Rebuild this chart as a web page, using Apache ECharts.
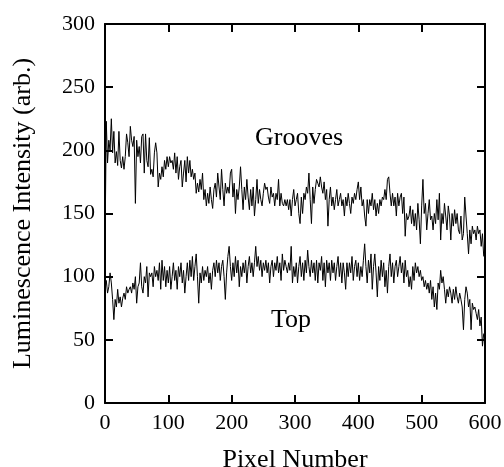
<!DOCTYPE html>
<html>
<head>
<meta charset="utf-8">
<script src="https://cdn.jsdelivr.net/npm/echarts@6/dist/echarts.min.js"></script>
<style>html,body{margin:0;padding:0;background:#fff;}#c{width:504px;height:467px;}</style>
</head>
<body>
<div id="c"></div>
<script>
// Sampling step along pixel axis (every 2 pixels, starting at 0)
var pixelStep = 2;
var groovesValues = [
121,223,190,208,200,225,198,215,190,199,188,215,192,186,195,185,195,213,206,195,
219,208,203,211,158,208,195,203,190,211,213,182,213,192,187,210,181,185,179,198,
206,198,171,182,177,187,179,192,185,195,187,195,190,192,185,198,182,195,177,187,
192,171,182,192,175,195,182,192,179,185,177,182,166,174,167,177,169,182,161,169,
156,166,158,171,161,154,169,174,163,182,171,161,185,169,156,174,166,171,166,182,
185,163,174,150,169,161,171,187,169,153,171,161,177,163,153,169,156,171,148,161,
177,158,169,161,156,166,174,169,171,163,158,171,163,166,156,166,161,177,156,166,
158,156,161,156,161,153,161,148,161,169,156,161,166,150,142,163,150,166,161,171,
166,182,161,142,171,158,169,177,174,171,179,171,166,175,161,169,140,161,171,156,
163,153,161,169,156,161,166,156,161,148,163,156,166,158,150,163,158,166,161,169,
175,161,171,156,161,148,140,161,150,161,156,166,153,161,148,158,150,161,156,163,
161,169,161,177,179,166,156,166,156,163,148,166,156,163,166,150,163,132,150,145,
148,156,142,153,140,150,137,158,145,126,156,177,150,158,137,150,161,145,148,137,
150,142,161,145,166,129,150,142,158,148,137,156,148,129,150,140,153,142,150,137,
134,148,129,134,163,148,134,118,137,126,140,134,137,129,140,134,137,124,134,116
];
var topValues = [
90,97,87,92,103,95,82,66,82,76,90,79,84,76,83,87,82,92,87,90,
92,87,95,90,100,79,92,95,111,92,87,100,95,108,84,103,100,103,92,108,
100,105,97,111,90,113,97,108,92,105,95,108,90,100,111,97,105,90,108,100,
111,95,105,87,100,111,97,113,100,116,97,108,118,100,79,103,95,108,97,105,
100,108,95,103,90,105,111,100,113,103,111,97,108,113,100,82,103,116,124,108,
97,111,100,116,103,113,92,108,100,111,103,113,95,108,116,103,111,100,111,124,
108,116,105,113,100,111,105,113,103,111,95,108,113,100,111,105,116,103,111,97,
118,105,113,108,103,111,105,124,95,108,100,111,95,108,116,100,111,97,113,103,
121,108,100,113,103,111,97,113,95,111,105,116,97,111,92,113,103,111,97,113,
103,111,97,108,116,100,111,95,111,103,90,111,100,111,103,116,97,108,113,100,
111,97,108,100,113,126,108,95,113,103,118,90,108,118,103,84,108,97,113,100,
111,92,105,87,108,118,100,111,95,108,113,100,108,116,103,111,95,113,100,105,
92,100,90,108,97,111,103,108,100,105,97,100,92,97,90,95,87,97,82,92,
76,87,74,95,90,105,95,100,90,79,90,84,92,87,79,90,82,92,84,79,
87,82,76,58,82,92,87,76,82,58,79,74,76,71,66,74,61,68,45,55
];
var xTicks = [0, 100, 200, 300, 400, 500, 600];
var yTicks = [0, 50, 100, 150, 200, 250, 300];
var labelGrooves = 'Grooves';
var labelTop = 'Top';

function toPairs(vals) {
  return vals.map(function (v, i) { return [i * pixelStep, v]; });
}

var font = '"Liberation Serif", "Times New Roman", serif';
var axisLine = { show: true, onZero: false, lineStyle: { color: '#000', width: 2 } };
var tick = { show: true, inside: true, length: 8, lineStyle: { color: '#000', width: 2 } };

var chart = echarts.init(document.getElementById('c'), null, { renderer: 'canvas' });
chart.setOption({
  animation: false,
  backgroundColor: '#fff',
  grid: { left: 105, right: 19, top: 24, bottom: 64, containLabel: false, outerBoundsMode: 'none' },
  xAxis: [{
    type: 'value', min: xTicks[0], max: xTicks[xTicks.length - 1], interval: 100,
    position: 'bottom',
    name: 'Pixel Number', nameLocation: 'middle', nameGap: 44,
    nameTextStyle: { fontFamily: font, fontSize: 26, color: '#000' },
    axisLine: axisLine, axisTick: tick, splitLine: { show: false },
    axisLabel: { fontFamily: font, fontSize: 22, color: '#000', margin: 9 }
  }, {
    type: 'value', min: xTicks[0], max: xTicks[xTicks.length - 1], interval: 100,
    position: 'top',
    axisLine: axisLine, axisTick: tick, splitLine: { show: false },
    axisLabel: { show: false }
  }],
  yAxis: [{
    type: 'value', min: yTicks[0], max: yTicks[yTicks.length - 1], interval: 50,
    position: 'left',
    name: 'Luminescence Intensity (arb.)', nameLocation: 'middle', nameGap: 69,
    nameTextStyle: { fontFamily: font, fontSize: 26, color: '#000' },
    axisLine: axisLine, axisTick: tick, splitLine: { show: false },
    axisLabel: { fontFamily: font, fontSize: 22, color: '#000', margin: 10 }
  }, {
    type: 'value', min: yTicks[0], max: yTicks[yTicks.length - 1], interval: 50,
    position: 'right',
    axisLine: axisLine, axisTick: tick, splitLine: { show: false },
    axisLabel: { show: false }
  }],
  series: [{
    type: 'line', data: toPairs(groovesValues), showSymbol: false,
    lineStyle: { color: '#000', width: 1 }, silent: true
  }, {
    type: 'line', data: toPairs(topValues), showSymbol: false,
    lineStyle: { color: '#000', width: 1 }, silent: true
  }],
  graphic: [{
    type: 'text', x: 299, y: 138,
    style: { text: labelGrooves, font: '26px ' + font, fill: '#000', textAlign: 'center', textVerticalAlign: 'middle' }
  }, {
    type: 'text', x: 291, y: 320,
    style: { text: labelTop, font: '26px ' + font, fill: '#000', textAlign: 'center', textVerticalAlign: 'middle' }
  }]
});
</script>
</body>
</html>
